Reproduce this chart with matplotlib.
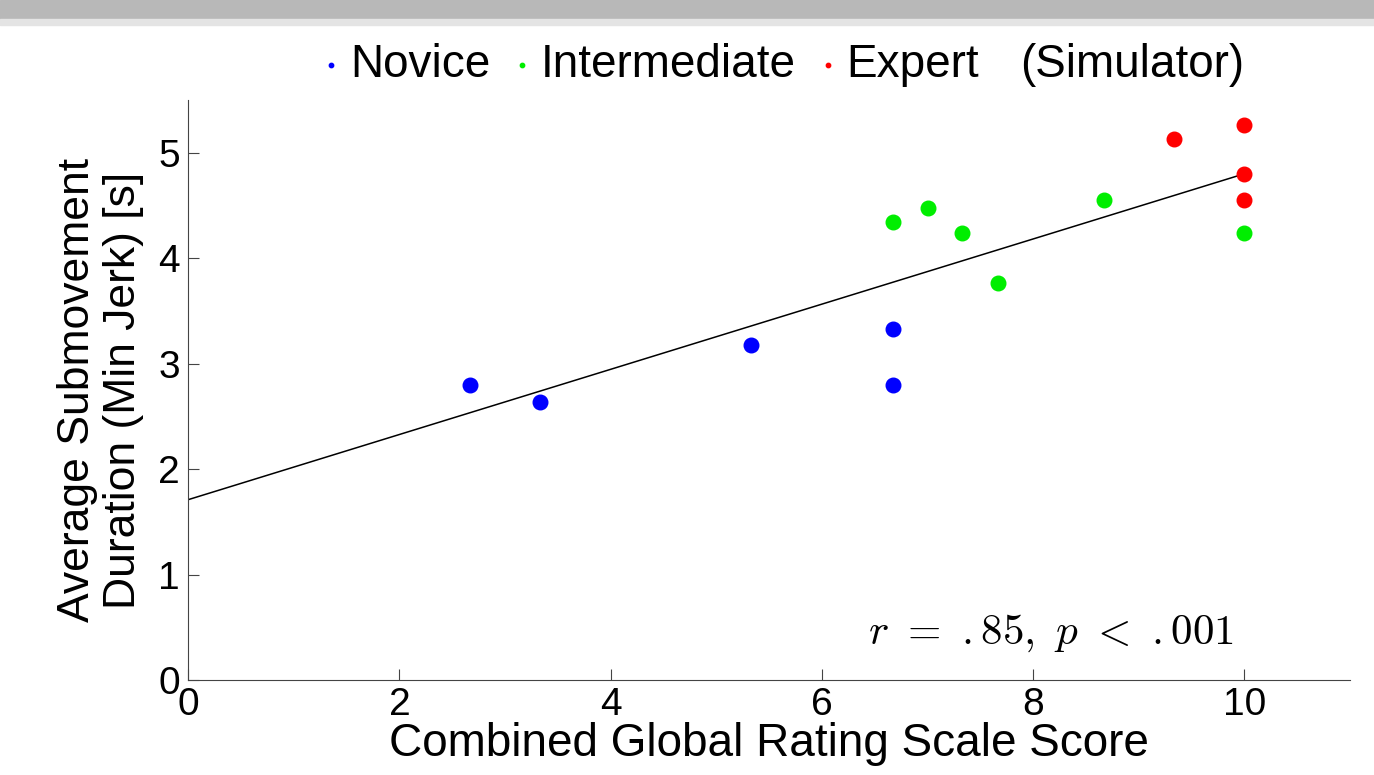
import matplotlib
matplotlib.use("Agg")
import matplotlib.pyplot as plt
import numpy as np

# Data
novice_x = [2.67, 3.33, 5.33, 6.67, 6.67]
novice_y = [2.80, 2.64, 3.18, 3.33, 2.80]
inter_x = [6.67, 7.00, 7.33, 7.67, 8.67, 10.0]
inter_y = [4.34, 4.48, 4.24, 3.76, 4.55, 4.24]
expert_x = [9.33, 10.0, 10.0, 10.0]
expert_y = [5.13, 5.26, 4.80, 4.55]

# Fitted line
fit_intercept = 1.71
fit_slope = 0.309
fit_range = [0, 10]

plt.rcParams["font.family"] = ["Liberation Sans", "DejaVu Sans"]
plt.rcParams["mathtext.fontset"] = "cm"

fig = plt.figure(figsize=(13.74, 7.75), dpi=100)
ax = fig.add_axes([0.137, 0.1226, 0.8455, 0.7484])

# grey shadow band at top of the screenshot
fig.add_artist(plt.Rectangle((0, 0.974), 1.0, 0.026, transform=fig.transFigure,
                             color="#b8b8b8", zorder=0))
fig.add_artist(plt.Rectangle((0, 0.968), 1.0, 0.008, transform=fig.transFigure,
                             color="#e4e4e4", zorder=0))

xs = np.array(fit_range)
ax.plot(xs, fit_intercept + fit_slope * xs, color="black", lw=1.1, zorder=1)

ax.scatter(novice_x, novice_y, s=110, color="#0000ff", label="Novice", zorder=2)
ax.scatter(inter_x, inter_y, s=110, color="#00ee00", label="Intermediate", zorder=2)
ax.scatter(expert_x, expert_y, s=110, color="#ff0000", label="Expert", zorder=2)

ax.set_xlim(0, 11)
ax.set_ylim(0, 5.5)
ax.set_xticks([0, 2, 4, 6, 8, 10])
ax.set_yticks([0, 1, 2, 3, 4, 5])
for s in ["left", "bottom"]:
    ax.spines[s].set_color("#444444")
ax.spines["top"].set_visible(False)
ax.spines["right"].set_visible(False)
ax.tick_params(direction="in", length=8, labelsize=28, color="#444444")
ax.tick_params(axis="x", pad=5)
ax.tick_params(axis="y", pad=6)

ax.set_xlabel("Combined Global Rating Scale Score", fontsize=33, labelpad=-1)
ax.set_ylabel("Average Submovement\nDuration (Min Jerk) [s]", fontsize=32,
              labelpad=10, linespacing=1.15)

ax.text(9.9, 0.25, r"$r\ =\ .85,\ p\ <\ .001$", fontsize=31, ha="right", va="bottom")

fig.legend(*ax.get_legend_handles_labels(), ncol=3, loc="center left",
           bbox_to_anchor=(320 / 1374, 1 - 65 / 775),
           frameon=False, fontsize=33, markerscale=0.3,
           handletextpad=0.15, columnspacing=0.45, handlelength=0.5,
           borderpad=0, borderaxespad=0)
fig.text(1020 / 1374, 1 - 65 / 775, "(Simulator)", fontsize=33, va="center")

fig.savefig("out.png", dpi=100)
